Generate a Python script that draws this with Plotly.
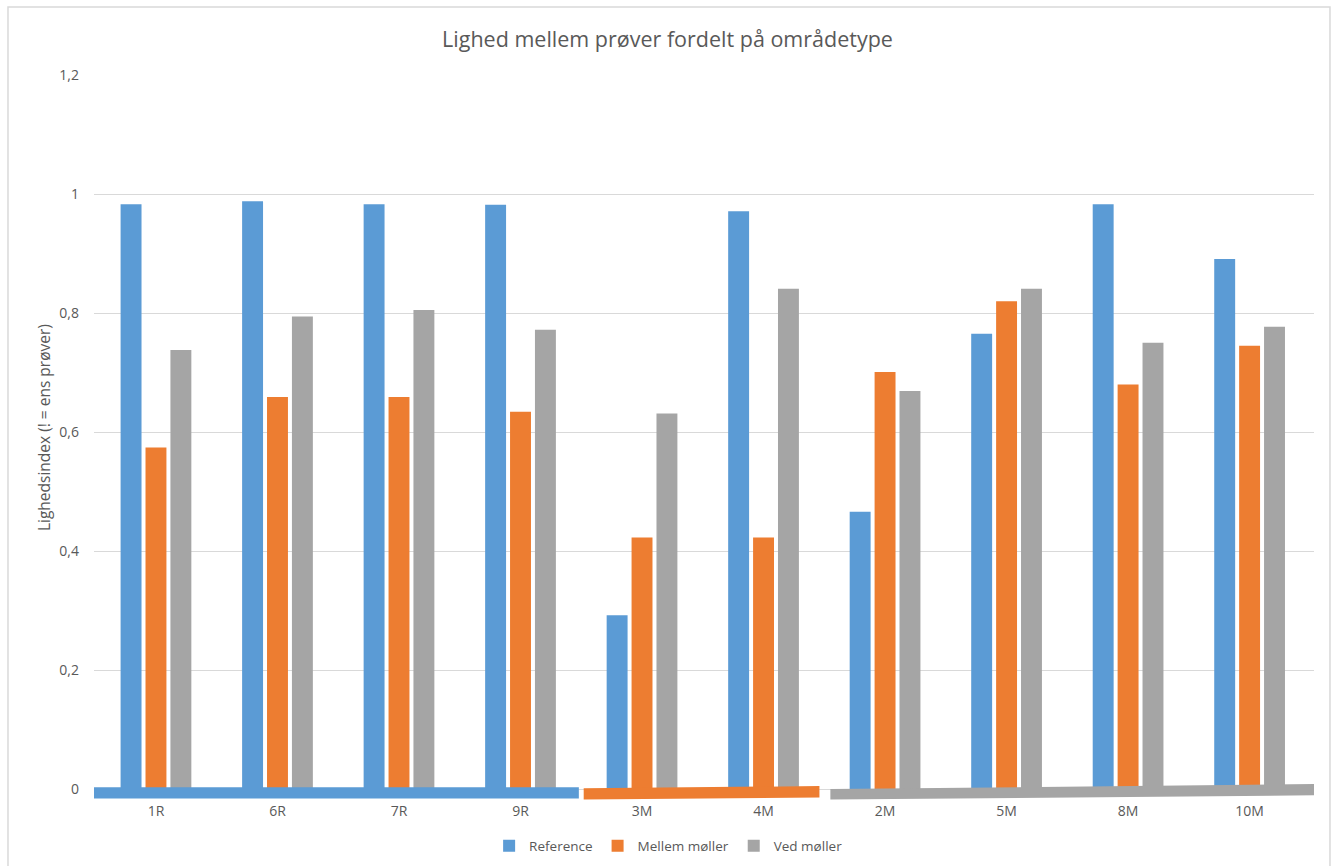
import plotly.graph_objects as go

# Sample sites, grouped by area type
sites = ["1R", "6R", "7R", "9R", "3M", "4M", "2M", "5M", "8M", "10M"]

# Similarity index per series
reference = [0.983, 0.988, 0.983, 0.982, 0.292, 0.971, 0.466, 0.765, 0.983, 0.891]
mellem_moller = [0.574, 0.659, 0.659, 0.634, 0.423, 0.423, 0.701, 0.820, 0.680, 0.745]
ved_moller = [0.738, 0.794, 0.805, 0.772, 0.631, 0.841, 0.669, 0.841, 0.750, 0.777]

series_names = ["Reference", "Mellem møller", "Ved møller"]
y_ticks = [0, 0.2, 0.4, 0.6, 0.8, 1.0, 1.2]
y_tick_text = ["0", "0,2", "0,4", "0,6", "0,8", "1", "1,2"]

# Area-type groups marked by a band under the category axis: (first, last site index)
group_spans = [(0, 3), (4, 5), (6, 9)]

colors = ["#5B9BD5", "#ED7D31", "#A5A5A5"]
text_color = "#595959"
font_family = "'Open Sans', sans-serif"

fig = go.Figure()
for name, vals, col in zip(series_names, [reference, mellem_moller, ved_moller], colors):
    fig.add_trace(go.Bar(x=sites, y=vals, name=name, marker=dict(color=col, line=dict(width=0))))

# Hand-drawn group bands: slight tilt per band (left bottom/top, right bottom/top offsets)
band_tilt = [
    (-0.0160, 0.0030, -0.0160, 0.0030),
    (-0.0175, 0.0015, -0.0140, 0.0050),
    (-0.0175, 0.0000, -0.0105, 0.0085),
]
band_pad = [(-0.01, 0.02), (0.02, 0.04), (0.05, -0.03)]
for (first, last), col, (lb, lt, rb, rt), (pl, pr) in zip(group_spans, colors, band_tilt, band_pad):
    x0 = first - 0.5 + pl
    x1 = last + 0.5 - pr
    fig.add_shape(
        type="path",
        xref="x", yref="y",
        path=f"M {x0},{lb} L {x1},{rb} L {x1},{rt} L {x0},{lt} Z",
        fillcolor=col, line=dict(width=0), layer="above",
    )

# Outer chart border
fig.add_shape(
    type="rect", xref="paper", yref="paper",
    x0=-0.0705, x1=1.0131, y0=-0.12, y1=1.0937,
    line=dict(color="#D9D9D9", width=1.5), fillcolor="rgba(0,0,0,0)", layer="below",
)

# Y axis title
fig.add_annotation(
    text="Lighedsindex (! = ens prøver)", textangle=-90,
    xref="paper", yref="paper", x=-0.041, xanchor="center", y=0.515, yanchor="middle",
    showarrow=False, font=dict(size=15.5, color=text_color, family=font_family),
)

fig.update_layout(
    width=1335, height=866,
    margin=dict(l=94, r=21, t=75, b=65, autoexpand=False),
    paper_bgcolor="white", plot_bgcolor="white",
    font=dict(family=font_family, color=text_color, size=14),
    title=dict(
        text="Lighed mellem prøver fordelt på områdetype",
        x=0.5, xanchor="center", y=0.954, yanchor="middle",
        font=dict(size=21.5, color=text_color, family=font_family),
    ),
    barmode="group", bargap=0.385, bargroupgap=0.16,
    showlegend=True,
    legend=dict(
        orientation="h", x=0.471, xanchor="center", y=-0.062, yanchor="middle",
        font=dict(size=13.5, color=text_color), itemwidth=30, tracegroupgap=0,
    ),
    xaxis=dict(showgrid=False, showline=False, ticks="", automargin=False,
               tickfont=dict(size=14, color=text_color)),
    yaxis=dict(
        range=[-0.02, 1.2], tickvals=y_ticks, ticktext=y_tick_text,
        showgrid=True, gridcolor="#D9D9D9", gridwidth=1, zeroline=False,
        showline=False, ticks="", ticklabelstandoff=14, automargin=False,
        tickfont=dict(size=14, color=text_color),
    ),
)

fig.write_html("out.html")
